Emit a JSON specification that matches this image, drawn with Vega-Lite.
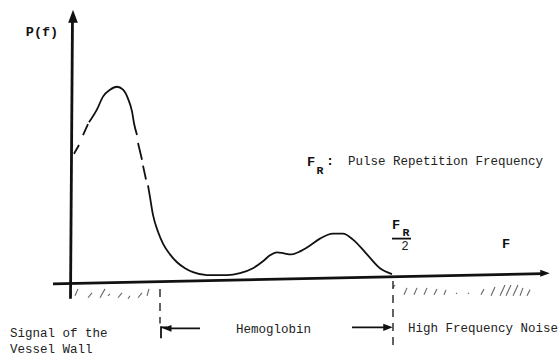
{
  "$schema": "https://vega.github.io/schema/vega-lite/v6.json",
  "width": 560,
  "height": 356,
  "autosize": {"type": "fit", "contains": "padding"},
  "padding": 0,
  "background": "white",
  "view": {"stroke": null},
  "datasets": {
    "curve": [
      {"seg": "dA", "f": 3, "p": 132}, {"seg": "dA", "f": 8, "p": 141},
      {"seg": "dB", "f": 12, "p": 151}, {"seg": "dB", "f": 17, "p": 162},
      {"seg": "s1", "f": 18, "p": 164}, {"seg": "s1", "f": 26, "p": 177}, {"seg": "s1", "f": 32, "p": 190}, {"seg": "s1", "f": 39, "p": 197}, {"seg": "s1", "f": 46, "p": 200}, {"seg": "s1", "f": 52, "p": 197}, {"seg": "s1", "f": 57, "p": 188}, {"seg": "s1", "f": 61, "p": 175}, {"seg": "s1", "f": 63, "p": 163}, {"seg": "s1", "f": 66, "p": 151},
      {"seg": "dC", "f": 67, "p": 143}, {"seg": "dC", "f": 71, "p": 126},
      {"seg": "dD", "f": 72, "p": 120}, {"seg": "dD", "f": 75, "p": 106},
      {"seg": "s2", "f": 77, "p": 100}, {"seg": "s2", "f": 79, "p": 88}, {"seg": "s2", "f": 82, "p": 70}, {"seg": "s2", "f": 87, "p": 53}, {"seg": "s2", "f": 92, "p": 41}, {"seg": "s2", "f": 99, "p": 30}, {"seg": "s2", "f": 106, "p": 22}, {"seg": "s2", "f": 114, "p": 16}, {"seg": "s2", "f": 122, "p": 12}, {"seg": "s2", "f": 136, "p": 9}, {"seg": "s2", "f": 156, "p": 9}, {"seg": "s2", "f": 169, "p": 11}, {"seg": "s2", "f": 182, "p": 16}, {"seg": "s2", "f": 192, "p": 23}, {"seg": "s2", "f": 199, "p": 29}, {"seg": "s2", "f": 206, "p": 32}, {"seg": "s2", "f": 213, "p": 31}, {"seg": "s2", "f": 220, "p": 30}, {"seg": "s2", "f": 229, "p": 33}, {"seg": "s2", "f": 239, "p": 39}, {"seg": "s2", "f": 249, "p": 46}, {"seg": "s2", "f": 262, "p": 51}, {"seg": "s2", "f": 272, "p": 51}, {"seg": "s2", "f": 282, "p": 45}, {"seg": "s2", "f": 296, "p": 30}, {"seg": "s2", "f": 309, "p": 16}, {"seg": "s2", "f": 321, "p": 10}
    ],
    "axes": [
      {"name": "yaxis", "f": 1.5, "p": 272, "f2": -0.5, "p2": -15},
      {"name": "xaxis", "f": -18, "p": 0, "f2": 472, "p2": 10.5}
    ],
    "thin": [
      {"name": "arrowL", "f": 96, "p": -45, "f2": 129, "p2": -45},
      {"name": "arrowR", "f": 281, "p": -44, "f2": 315, "p2": -44},
      {"name": "bracket", "f": 90, "p": -43, "f2": 90, "p2": -55},
      {"name": "bracketTop", "f": 90, "p": -44, "f2": 96, "p2": -44},
      {"name": "frac", "f": 321, "p": 46, "f2": 340, "p2": 46}
    ],
    "dashed": [
      {"name": "left", "f": 89, "p": -5, "f2": 89, "p2": -40},
      {"name": "right", "f": 322, "p": 3, "f2": 322, "p2": -68}
    ],
    "hatch": [
      {"f": 4, "p": -12, "f2": 7, "p2": -5},
      {"f": 17, "p": -14, "f2": 21, "p2": -9},
      {"f": 29, "p": -14, "f2": 34, "p2": -5},
      {"f": 37, "p": -12, "f2": 39, "p2": -10},
      {"f": 47, "p": -14, "f2": 51, "p2": -9},
      {"f": 57, "p": -15, "f2": 59, "p2": -12},
      {"f": 67, "p": -14, "f2": 71, "p2": -9},
      {"f": 76, "p": -12, "f2": 78, "p2": -5},
      {"f": 322, "p": -4, "f2": 324, "p2": -1},
      {"f": 333, "p": -11, "f2": 336, "p2": -4},
      {"f": 343, "p": -11, "f2": 346, "p2": -4},
      {"f": 353, "p": -11, "f2": 356, "p2": -4},
      {"f": 363, "p": -11, "f2": 366, "p2": -5},
      {"f": 373, "p": -11, "f2": 375, "p2": -6},
      {"f": 385, "p": -10, "f2": 386, "p2": -9},
      {"f": 397, "p": -10, "f2": 398, "p2": -9},
      {"f": 410, "p": -11, "f2": 413, "p2": -5},
      {"f": 420, "p": -12, "f2": 424, "p2": -3},
      {"f": 429, "p": -12, "f2": 434, "p2": -1},
      {"f": 435, "p": -12, "f2": 440, "p2": -1},
      {"f": 442, "p": -12, "f2": 447, "p2": -1},
      {"f": 449, "p": -12, "f2": 452, "p2": -4},
      {"f": 456, "p": -12, "f2": 459, "p2": -6}
    ],
    "labelsLeft": [
      {"f": -61, "p": -50, "label": "Signal of the"},
      {"f": -61, "p": -66, "label": "Vessel Wall"},
      {"f": 337, "p": -45, "label": "High Frequency Noise"},
      {"f": 277, "p": 125, "label": "Pulse Repetition Frequency"}
    ],
    "labelsCenter": [
      {"f": 202.5, "p": -46, "label": "Hemoglobin"},
      {"f": 334, "p": 39, "label": "2"}
    ],
    "labelsBold": [
      {"f": -29, "p": 256, "label": "P(f)"},
      {"f": 240, "p": 124, "label": "F"},
      {"f": 259, "p": 125, "label": ":"},
      {"f": 325, "p": 60, "label": "F"},
      {"f": 435, "p": 41, "label": "F"}
    ],
    "labelsSub": [
      {"f": 249, "p": 115, "label": "R"},
      {"f": 335, "p": 52, "label": "R"}
    ],
    "headUp": [{"f": 2, "p": 271.5}],
    "headRight": [{"f": 474, "p": 10.8}, {"f": 317, "p": -44}],
    "headLeft": [{"f": 96, "p": -45}]
  },
  "encoding": {
    "x": {"field": "f", "type": "quantitative", "scale": {"domain": [-71, 489], "nice": false, "zero": false}, "axis": null},
    "y": {"field": "p", "type": "quantitative", "scale": {"domain": [-68, 288], "nice": false, "zero": false}, "axis": null}
  },
  "layer": [
    {
      "data": {"name": "hatch"},
      "mark": {"type": "rule", "color": "#666", "strokeWidth": 1.1},
      "encoding": {"x2": {"field": "f2"}, "y2": {"field": "p2"}}
    },
    {
      "data": {"name": "dashed"},
      "mark": {"type": "rule", "color": "#222", "strokeWidth": 1.4, "strokeDash": [8, 6]},
      "encoding": {"x2": {"field": "f2"}, "y2": {"field": "p2"}}
    },
    {
      "data": {"name": "axes"},
      "mark": {"type": "rule", "color": "#111", "strokeWidth": 2.8},
      "encoding": {"x2": {"field": "f2"}, "y2": {"field": "p2"}}
    },
    {
      "data": {"name": "thin"},
      "mark": {"type": "rule", "color": "#111", "strokeWidth": 1.8},
      "encoding": {"x2": {"field": "f2"}, "y2": {"field": "p2"}}
    },
    {
      "data": {"name": "curve"},
      "mark": {"type": "line", "color": "#111", "strokeWidth": 1.8, "interpolate": "monotone"},
      "encoding": {"detail": {"field": "seg"}}
    },
    {
      "data": {"name": "headUp"},
      "mark": {"type": "point", "shape": "M0,-1L0.75,1L-0.75,1Z", "size": 169, "filled": true, "color": "#111", "opacity": 1}
    },
    {
      "data": {"name": "headRight"},
      "mark": {"type": "point", "shape": "M1,0L-1,-0.75L-1,0.75Z", "size": 90, "filled": true, "color": "#111", "opacity": 1}
    },
    {
      "data": {"name": "headLeft"},
      "mark": {"type": "point", "shape": "M-1,0L1,-0.75L1,0.75Z", "size": 80, "filled": true, "color": "#111", "opacity": 1}
    },
    {
      "data": {"name": "labelsLeft"},
      "mark": {"type": "text", "align": "left", "baseline": "middle", "font": "Liberation Mono", "fontSize": 12.5, "color": "#222"},
      "encoding": {"text": {"field": "label"}}
    },
    {
      "data": {"name": "labelsCenter"},
      "mark": {"type": "text", "align": "center", "baseline": "middle", "font": "Liberation Mono", "fontSize": 12.5, "color": "#222"},
      "encoding": {"text": {"field": "label"}}
    },
    {
      "data": {"name": "labelsBold"},
      "mark": {"type": "text", "align": "center", "baseline": "middle", "font": "Liberation Mono", "fontSize": 13.5, "fontWeight": "bold", "color": "#111"},
      "encoding": {"text": {"field": "label"}}
    },
    {
      "data": {"name": "labelsSub"},
      "mark": {"type": "text", "align": "center", "baseline": "middle", "font": "Liberation Mono", "fontSize": 11.5, "fontWeight": "bold", "color": "#111"},
      "encoding": {"text": {"field": "label"}}
    }
  ]
}
